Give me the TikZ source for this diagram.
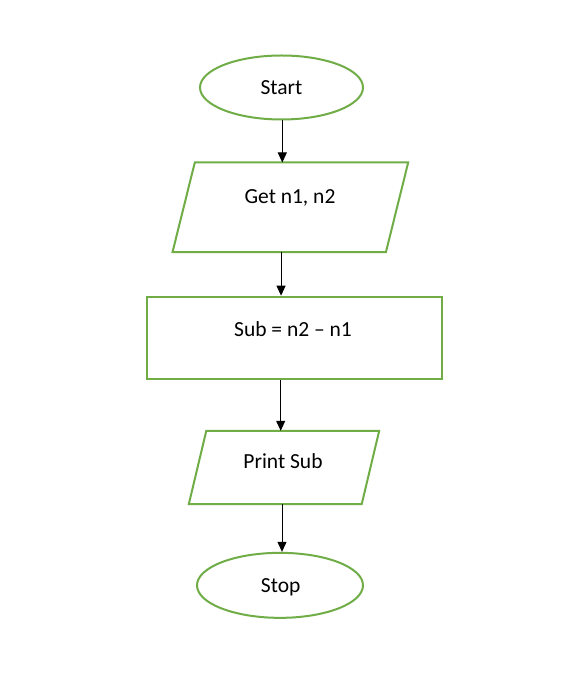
\documentclass[tikz,border=0pt]{standalone}
\usepackage{fontspec}
\setmainfont{Carlito}
\usetikzlibrary{arrows.meta,shapes.geometric}
\definecolor{fgreen}{RGB}{112,173,71}
\begin{document}
\begin{tikzpicture}[x=1pt,y=1pt,
  every node/.style={font=\fontsize{21.5}{26}\selectfont},
  term/.style={ellipse, draw=fgreen, line width=2pt, minimum width=#1, minimum height=64pt, inner sep=0pt},
  box/.style={rectangle, inner sep=0pt},
  greenline/.style={draw=fgreen, line width=2pt, line join=miter},
  lbl/.style={anchor=base, inner sep=0pt},
  arr/.style={draw=black, line width=1pt, -{Triangle[width=9pt,length=10pt]}}]
\useasboundingbox (0,0) rectangle (565,675);
\fill[white] (0,0) rectangle (565,675);
% Start
\node[term=163pt] (start) at (281.5,587.5) {};
\node[lbl] (starttxt) at (281.5,580.7) {Start};
% Get n1, n2 (parallelogram)
\node[box, minimum width=235.3pt, minimum height=89.3pt] (get) at (290.35,467.65) {};
\draw[greenline] ([xshift=22.3pt]get.north west) -- (get.north east) -- ([xshift=-22.3pt]get.south east) -- (get.south west) -- cycle;
\node[lbl] (gettxt) at (290,471.7) {Get n1, n2};
% Sub
\node[box, draw=fgreen, line width=2pt, minimum width=295pt, minimum height=82.3pt] (sub) at (294.2,337.15) {};
\node[lbl] (subtxt) at (293,338.3) {Sub = n2 – n1};
% Print Sub (parallelogram)
\node[box, minimum width=190pt, minimum height=73pt] (print) at (284,207.5) {};
\draw[greenline] ([xshift=17.5pt]print.north west) -- (print.north east) -- ([xshift=-17.5pt]print.south east) -- (print.south west) -- cycle;
\node[lbl] (printtxt) at (283,206) {Print Sub};
% Stop
\node[term=166pt, minimum height=65pt] (stop) at (280,89.65) {};
\node[lbl] (stoptxt) at (280.7,82.3) {Stop};
% arrows
\draw[arr] ([xshift=0.8pt]start.south) -- ([xshift=0.8pt]start.south |- get.north);
\draw[arr] ([xshift=-9.3pt]get.south) -- ([xshift=-9.3pt]get.south |- sub.north);
\draw[arr] ([xshift=-13.5pt]sub.south) -- ([xshift=-13.5pt]sub.south |- print.north);
\draw[arr] ([xshift=-2pt]print.south) -- ([xshift=-2pt]print.south |- stop.north);
\end{tikzpicture}
\end{document}
